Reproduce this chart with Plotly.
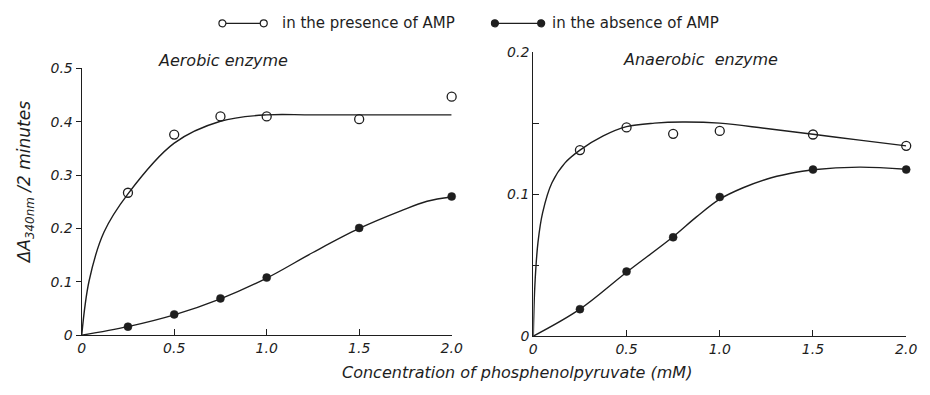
import plotly.graph_objects as go

# ---- data ----
conc = [0.25, 0.5, 0.75, 1.0, 1.5, 2.0]

aer_with_amp = [0.267, 0.376, 0.41, 0.41, 0.405, 0.447]
aer_without_amp = [0.016, 0.039, 0.069, 0.108, 0.201, 0.260]
anaer_with_amp = [0.131, 0.147, 0.1425, 0.1445, 0.142, 0.134]
anaer_without_amp = [0.019, 0.0455, 0.0696, 0.098, 0.1173, 0.1173]

# hand-drawn fitted curves
aer_with_curve_x = [0, 0.04, 0.12, 0.25, 0.5, 0.75, 1.0, 1.25, 2.0]
aer_with_curve_y = [0, 0.102, 0.193, 0.265, 0.360, 0.401, 0.413, 0.413, 0.413]
aer_without_curve_x = [0, 0.25, 0.5, 0.75, 1.0, 1.25, 1.5, 1.725, 1.867, 2.0]
aer_without_curve_y = [0, 0.016, 0.038, 0.068, 0.107, 0.155, 0.200, 0.233, 0.251, 0.259]
anaer_with_curve_x = [0, 0.008, 0.025, 0.05, 0.1, 0.17, 0.25, 0.375, 0.5, 0.65, 0.8, 1.0, 1.25, 1.5, 1.75, 2.0]
anaer_with_curve_y = [0, 0.035, 0.066, 0.087, 0.108, 0.122, 0.131, 0.141, 0.1475, 0.1500, 0.1508, 0.1500, 0.1462, 0.1422, 0.138, 0.134]
anaer_without_curve_x = [0, 0.25, 0.5, 0.75, 0.875, 1.0, 1.125, 1.25, 1.375, 1.5, 1.75, 2.0]
anaer_without_curve_y = [0, 0.019, 0.045, 0.070, 0.084, 0.0965, 0.1045, 0.1105, 0.1145, 0.1172, 0.1190, 0.1175]

x_ticks = [0, 0.5, 1.0, 1.5, 2.0]
x_tick_labels = ["0", "0.5", "1.0", "1.5", "2.0"]
y1_ticks = [0, 0.1, 0.2, 0.3, 0.4, 0.5]
y1_tick_labels = ["0", "0.1", "0.2", "0.3", "0.4", "0.5"]
y2_ticks = [0, 0.1, 0.2]
y2_tick_labels = ["0", "0.1", "0.2"]
y2_minor_ticks = [0.05, 0.15]

legend_labels = ["in the presence of AMP", "in the absence of AMP"]

INK = "#1e1e1e"
FONT = "DejaVu Sans"

fig = go.Figure()

line_style = dict(color=INK, width=1.4, shape="spline", smoothing=1.0)
open_marker = dict(symbol="circle-open", size=9, color=INK, line=dict(width=1.3, color=INK))
filled_marker = dict(symbol="circle", size=8, color=INK, line=dict(width=0.5, color=INK))

# left panel
fig.add_trace(go.Scatter(x=aer_with_curve_x, y=aer_with_curve_y, mode="lines",
                         line=line_style, showlegend=False, xaxis="x", yaxis="y"))
fig.add_trace(go.Scatter(x=aer_without_curve_x, y=aer_without_curve_y, mode="lines",
                         line=line_style, showlegend=False, xaxis="x", yaxis="y"))
fig.add_trace(go.Scatter(x=conc, y=aer_with_amp, mode="markers", marker=open_marker,
                         name=legend_labels[0], showlegend=False, cliponaxis=False, xaxis="x", yaxis="y"))
fig.add_trace(go.Scatter(x=conc, y=aer_without_amp, mode="markers", marker=filled_marker,
                         name=legend_labels[1], showlegend=False, cliponaxis=False, xaxis="x", yaxis="y"))
# right panel
fig.add_trace(go.Scatter(x=anaer_with_curve_x, y=anaer_with_curve_y, mode="lines",
                         line=line_style, showlegend=False, xaxis="x2", yaxis="y2"))
fig.add_trace(go.Scatter(x=anaer_without_curve_x, y=anaer_without_curve_y, mode="lines",
                         line=line_style, showlegend=False, xaxis="x2", yaxis="y2"))
fig.add_trace(go.Scatter(x=conc, y=anaer_with_amp, mode="markers", marker=open_marker,
                         name=legend_labels[0], showlegend=False, cliponaxis=False, xaxis="x2", yaxis="y2"))
fig.add_trace(go.Scatter(x=conc, y=anaer_without_amp, mode="markers", marker=filled_marker,
                         name=legend_labels[1], showlegend=False, cliponaxis=False, xaxis="x2", yaxis="y2"))

tickfont = dict(family=FONT, size=14, color=INK, style="italic")
axis_common = dict(showline=True, linecolor=INK, linewidth=1.3, showgrid=False, zeroline=False,
                   tickcolor=INK, tickwidth=1.2, tickfont=tickfont)

fig.update_layout(
    width=930, height=395,
    margin=dict(l=0, r=0, t=0, b=0),
    paper_bgcolor="white", plot_bgcolor="white",
    showlegend=False,
    xaxis=dict(domain=[79/930, 455/930], range=[0, 2.0], tickvals=x_ticks, ticktext=x_tick_labels,
               ticks="inside", ticklen=6, anchor="y", **axis_common),
    yaxis=dict(domain=[54/395, 332/395], range=[0, 0.5], tickvals=y1_ticks, ticktext=y1_tick_labels,
               ticks="outside", ticklen=5, anchor="x", **axis_common),
    xaxis2=dict(domain=[538/930, 917/930], range=[0, 2.0], tickvals=x_ticks, ticktext=x_tick_labels,
                ticks="inside", ticklen=6, anchor="y2", **axis_common),
    yaxis2=dict(domain=[53/395, 349/395], range=[0, 0.2], tickvals=y2_ticks, ticktext=y2_tick_labels,
                ticks="inside", ticklen=6, anchor="x2",
                minor=dict(tickvals=y2_minor_ticks, ticks="inside", ticklen=6, tickcolor=INK, tickwidth=1.2),
                **axis_common),
)

# ---- hand-made legend (open / filled circle joined by a line) ----
def px_x(p):
    return p / 930

def px_y(p):
    return 1 - p / 395

legend_y = 16
legend_items = [
    (222, 264, 281, "white", legend_labels[0]),
    (499, 546, 555, INK, legend_labels[1]),
]
for x_left, x_right, x_text, fill, label in legend_items:
    fig.add_shape(type="line", xref="paper", yref="paper", x0=px_x(x_left), x1=px_x(x_right),
                  y0=px_y(legend_y), y1=px_y(legend_y), line=dict(color=INK, width=1.4))
    for cx in (x_left, x_right):
        fig.add_shape(type="circle", xref="paper", yref="paper", xsizemode="pixel", ysizemode="pixel",
                      xanchor=px_x(cx), yanchor=px_y(legend_y), x0=-3.5, x1=3.5, y0=-3.5, y1=3.5,
                      fillcolor=fill, line=dict(color=INK, width=1.2))
    fig.add_annotation(text=label, xref="paper", yref="paper", x=px_x(x_text), y=px_y(legend_y),
                       showarrow=False, xanchor="left", yanchor="middle",
                       font=dict(family=FONT, size=15, color=INK))

ann_font = dict(family=FONT, size=16, color=INK, style="italic")
fig.add_annotation(text="Aerobic enzyme", xref="paper", yref="paper", x=px_x(223), y=px_y(55),
                   showarrow=False, font=ann_font, xanchor="center", yanchor="middle")
fig.add_annotation(text="Anaerobic  enzyme", xref="paper", yref="paper", x=px_x(708), y=px_y(54),
                   showarrow=False, font=ann_font, xanchor="center", yanchor="middle")
fig.add_annotation(text="ΔA<sub>340nm</sub> /2 minutes", xref="paper", yref="paper", x=px_x(22),
                   y=px_y(182), textangle=-90, showarrow=False,
                   font=dict(family=FONT, size=17, color=INK, style="italic"),
                   xanchor="center", yanchor="middle")
fig.add_annotation(text="Concentration of phosphenolpyruvate (mM)", xref="paper", yref="paper",
                   x=px_x(521), y=px_y(380), showarrow=False,
                   font=dict(family=FONT, size=16, color=INK, style="italic"),
                   xanchor="center", yanchor="middle")

fig.write_html("out.html")
